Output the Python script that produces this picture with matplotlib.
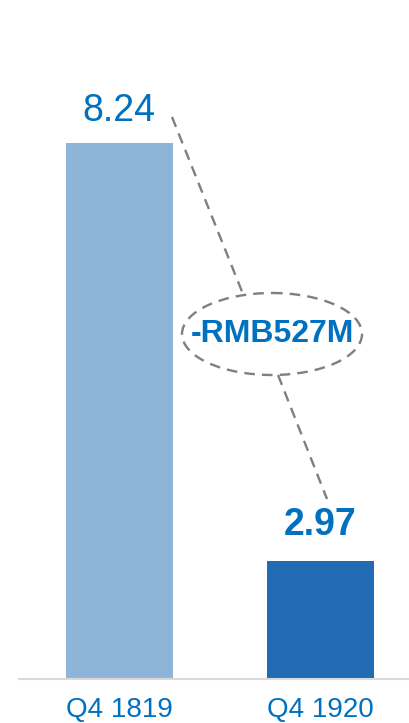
import matplotlib
matplotlib.use("Agg")
import matplotlib.pyplot as plt
from matplotlib.patches import Ellipse

plt.rcParams['font.family'] = ['Liberation Sans', 'DejaVu Sans']

# Data
categories = ["Q4 1819", "Q4 1920"]
values = [8.24, 2.97]          # labelled values
bar_heights = [8.24, 1.81]     # heights as drawn in the reference (not to scale)
change_label = "-RMB527M"

W, H, DPI = 410, 723, 100
fig = plt.figure(figsize=(W / DPI, H / DPI), dpi=DPI)

# main axes mapping: bar centres at 119.5 / 320.5 px, baseline 44 px from bottom
px_per_x = 201.0
px_per_y = 536.0 / 8.24
ax = fig.add_axes([0, 0, 1, 1])
ax.set_xlim(-119.5 / px_per_x, (W - 119.5) / px_per_x)
ax.set_ylim(-44 / px_per_y, (H - 44) / px_per_y)
ax.axis('off')

xs = list(range(len(categories)))
colors = ["#8fb4d9", "#226ab4"]
ax.bar(xs, bar_heights, width=107 / px_per_x, color=colors, zorder=2)
ax.plot([(18 - 119.5) / px_per_x, (W - 119.5) / px_per_x], [0, 0],
        color="#d9d9d9", lw=1.5, zorder=3, solid_capstyle='butt')

blue = "#0070c0"
for x, c in zip(xs, categories):
    ax.text(x, -31 / px_per_y, c, ha='center', va='center', fontsize=20, color=blue)

# overlay axes in pixel coordinates (y down)
ov = fig.add_axes([0, 0, 1, 1])
ov.set_xlim(0, W)
ov.set_ylim(H, 0)
ov.axis('off')
ov.patch.set_alpha(0)

ov.text(119, 111, f"{values[0]:.2f}", ha='center', va='center', fontsize=27, color=blue)
ov.text(320, 525, f"{values[1]:.2f}", ha='center', va='center', fontsize=27,
        color=blue, fontweight='bold')

gray = "#7f7f7f"
dash = dict(color=gray, lw=1.7, linestyle=(0, (4.5, 3)))
ov.plot([172, 243], [117, 294], **dash)
ov.plot([278, 327], [375, 499], **dash)
ov.add_patch(Ellipse((272, 334), 180, 82, fill=False, edgecolor=gray, lw=1.7,
                     linestyle=(0, (4.5, 3))))
ov.text(272, 334, change_label, ha='center', va='center', fontsize=23,
        color=blue, fontweight='bold')

fig.savefig("out.png", dpi=DPI)
